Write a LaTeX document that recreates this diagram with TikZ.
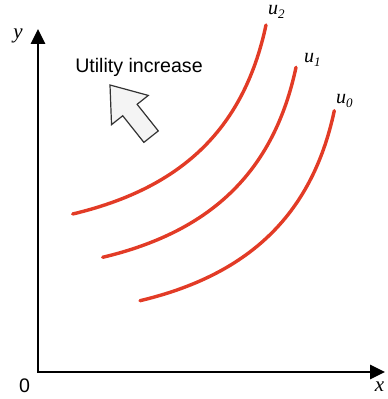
\documentclass[tikz,border=0pt]{standalone}
\usepackage{fontspec}
\usetikzlibrary{arrows.meta}
\newfontfamily\sansf{Liberation Sans}
\newfontfamily\seriff{Liberation Serif}
\definecolor{curvered}{HTML}{E23B26}
\definecolor{arrowfill}{HTML}{F4F4F4}
\definecolor{arrowline}{HTML}{333333}
\begin{document}
\begin{tikzpicture}[x=1pt,y=1pt,
  axisline/.style={line width=1.6pt, line join=miter, arrows={{Triangle[length=15pt,width=14.5pt]}-{Triangle[length=15pt,width=14.5pt]}}},
  indiff/.style={curvered, line width=3.4pt, line cap=round},
  ulabel/.style={inner sep=0pt, anchor=base west, font=\seriff\itshape\fontsize{20}{22}\selectfont},
  axlabel/.style={inner sep=0pt, font=\seriff\itshape\fontsize{21}{23}\selectfont},
  sanslabel/.style={inner sep=0pt, font=\sansf\fontsize{19.6}{22}\selectfont},
  blockarrow/.style={fill=arrowfill, draw=arrowline, line width=1.2pt, line join=miter}
]
\useasboundingbox (0,0) rectangle (388,399);
% axes
\coordinate (O) at (38,27);
\coordinate (yend) at (38,370);
\coordinate (xend) at (385,27);
\draw[axisline] (yend) |- (xend);
\node[axlabel] (ylab) at (18,363) {y};
\node[axlabel] (xlab) at (379.5,12) {x};
\node[sanslabel] (zero) at (24.5,13) {0};
% indifference curves
\coordinate (s2) at (72.7,185);
\coordinate (e2) at (266,374);
\coordinate (s1) at (102.7,141.7);
\coordinate (e1) at (296,331.7);
\coordinate (s0) at (140,98.3);
\coordinate (e0) at (334.3,288.3);
\draw[indiff] (s2) .. controls +(105,25) and +(-22.9,-107.6) .. (e2);
\draw[indiff] (s1) .. controls +(105,25) and +(-22.9,-107.6) .. (e1);
\draw[indiff] (s0) .. controls +(105,25) and +(-22.9,-107.6) .. (e0);
\node[ulabel] (lu2) at (268,384) {u\raisebox{-4pt}{\fontsize{13}{14}\selectfont 2}};
\node[ulabel] (lu1) at (304,336) {u\raisebox{-4pt}{\fontsize{13}{14}\selectfont 1}};
\node[ulabel] (lu0) at (336,295) {u\raisebox{-4pt}{\fontsize{13}{14}\selectfont 0}};
% utility increase
\node[sanslabel, anchor=base] (util) at (139,326) {Utility increase};
\begin{scope}[shift={(110,314)}, rotate=-51.5]
\draw[blockarrow] (0,0) -- (32,23.5) -- (32,9.2) -- (66,9.2) -- (66,-9.2) -- (32,-9.2) -- (32,-23.5) -- cycle;
\end{scope}
\end{tikzpicture}
\end{document}
